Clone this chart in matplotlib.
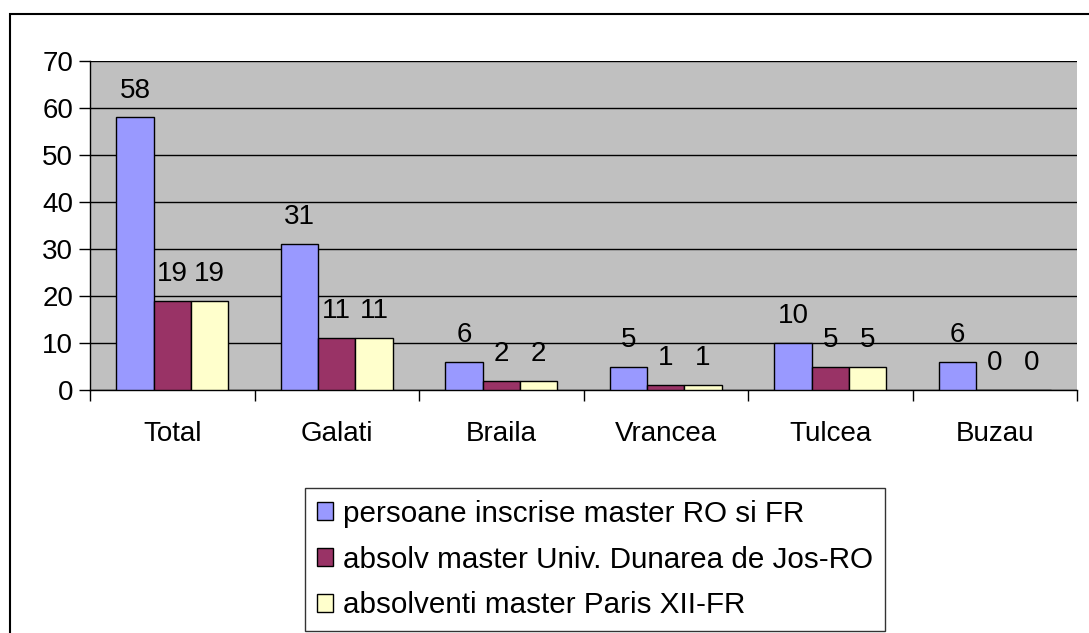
import matplotlib.pyplot as plt
import numpy as np
from matplotlib.patches import Rectangle

plt.rcParams['font.family'] = ['Liberation Sans', 'DejaVu Sans']

# data
categories = ['Total', 'Galati', 'Braila', 'Vrancea', 'Tulcea', 'Buzau']
inscrise = [58, 31, 6, 5, 10, 6]
absolv_ro = [19, 11, 2, 1, 5, 0]
absolv_fr = [19, 11, 2, 1, 5, 0]
series_names = ['persoane inscrise master RO si FR',
                'absolv master Univ. Dunarea de Jos-RO',
                'absolventi master Paris XII-FR']
colors = ['#9999FF', '#993366', '#FFFFCC']

fig = plt.figure(figsize=(10.89, 6.33), dpi=100)
ax = fig.add_axes([90 / 1089, 1 - 390 / 633, 987 / 1089, 329 / 633])

# outer chart border (clipped right / bottom like the original)
fig.patches.append(Rectangle((10 / 1089, -0.05), 1.2, 1 - 14 / 633 + 0.05,
                             transform=fig.transFigure, fill=False,
                             edgecolor='black', linewidth=1.5))

x = np.arange(len(categories))
w = 0.227
data = [inscrise, absolv_ro, absolv_fr]
for i, (vals, c, name) in enumerate(zip(data, colors, series_names)):
    pos = x + (i - 1) * w
    ax.bar(pos, vals, w, color=c, edgecolor='black', linewidth=1, label=name, zorder=3)
    for xp, v in zip(pos, vals):
        ax.annotate(str(v), (xp, v), xytext=(0, 10), textcoords='offset points',
                    ha='center', va='bottom', fontsize=20)

ax.set_facecolor('#C0C0C0')
ax.set_xlim(-0.5, len(categories) - 0.5)
ax.set_ylim(0, 70)
ax.set_yticks(range(0, 71, 10))
ax.yaxis.grid(True, color='black', linewidth=1, zorder=0)
ax.set_axisbelow(True)
ax.tick_params(axis='y', labelsize=20, length=8, width=1, direction='out', pad=4)

ax.set_xticks(x)
ax.set_xticklabels(categories)
ax.tick_params(axis='x', labelsize=20, length=0, pad=22)
ax.set_xticks(np.arange(-0.5, len(categories), 1), minor=True)
ax.tick_params(axis='x', which='minor', length=8, width=1, direction='out')

for s in ['top', 'right']:
    ax.spines[s].set_visible(False)
ax.spines['left'].set_linewidth(1)
ax.spines['bottom'].set_linewidth(1)

leg = fig.legend(loc='upper left', bbox_to_anchor=(305 / 1089, 1 - 488 / 633),
                 fontsize=21.3, frameon=True, fancybox=False, edgecolor='black',
                 handlelength=0.55, handleheight=0.55, handletextpad=0.35,
                 labelspacing=0.6, borderpad=0.4, borderaxespad=0)
leg.get_frame().set_linewidth(1)

fig.savefig('out.png', dpi=100)
